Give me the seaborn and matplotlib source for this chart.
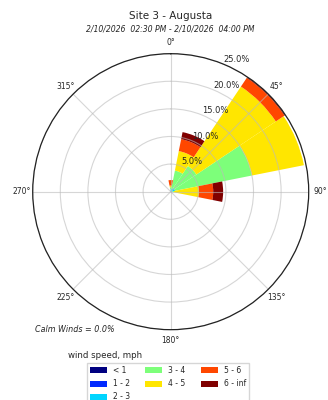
import matplotlib
matplotlib.use("Agg")
import matplotlib.pyplot as plt
import numpy as np
import seaborn as sns
from matplotlib.patches import Patch

sns.set_theme(style="white")
plt.rcParams['font.family'] = ['DejaVu Sans']

# wind direction sectors (deg) and percentage of time per speed bin
directions = [0, 22.5, 45, 67.5, 90]
speed_bins = ["< 1", "1 - 2", "2 - 3", "3 - 4", "4 - 5", "5 - 6", "6 - inf"]
pct_lt1 = [0.0, 0.0, 0.0, 0.0, 0.0]
pct_1_2 = [0.1, 0.1, 0.2, 0.2, 0.1]
pct_2_3 = [0.3, 0.4, 0.6, 0.6, 0.2]
pct_3_4 = [0.4, 3.4, 4.8, 14.2, 0.3]
pct_4_5 = [0.3, 3.6, 17.3, 9.6, 4.5]
pct_5_6 = [1.0, 2.2, 1.9, 0.0, 2.6]
pct_6_inf = [0.0, 1.3, 0.2, 0.0, 1.8]
series = [pct_lt1, pct_1_2, pct_2_3, pct_3_4, pct_4_5, pct_5_6, pct_6_inf]

radii = [5, 10, 15, 20, 25]
radii_labels = ["5.0%", "10.0%", "15.0%", "20.0%", "25.0%"]
angle_labels = ["0°", "45°", "90°", "135°", "180°", "225°", "270°", "315°"]

colors = sns.color_palette(list(plt.cm.jet(np.linspace(0, 1, len(speed_bins)))))

fig = plt.figure(figsize=(3.28, 4.0), dpi=100)
ax = fig.add_axes([0.0997, 0.1758, 0.8415, 0.69], projection="polar")
ax.set_theta_zero_location("N")
ax.set_theta_direction(-1)

# stacked sectors; grid + labels drawn over them like in windrose
theta = np.deg2rad(directions)
width = np.deg2rad(360 / 16)
bottom = np.zeros(len(directions))
for vals, col in zip(series, colors):
    vals = np.array(vals)
    ax.bar(theta, vals, width=width, bottom=bottom, color=col,
           linewidth=0, zorder=2)
    bottom += vals

ax.set_ylim(0, 25)
ax.set_rgrids(radii, labels=radii_labels, angle=22.5, fontsize=6)
ax.set_thetagrids(np.arange(0, 360, 45), labels=angle_labels, fontsize=5.5)
ax.tick_params(axis="x", pad=-5)
ax.grid(True, color="#bbbbbb", linewidth=0.8, alpha=0.6)
ax.set_axisbelow(False)
ax.spines["polar"].set_color("#222222")
ax.spines["polar"].set_linewidth(0.9)
ax.spines["polar"].set_zorder(4)

fig.text(0.52, 0.96, "Site 3 - Augusta", ha="center", va="center", fontsize=7.5)
fig.text(0.52, 0.928, "2/10/2026  02:30 PM - 2/10/2026  04:00 PM",
         ha="center", va="center", fontsize=5.6, style="italic")
fig.text(0.107, 0.175, "Calm Winds = 0.0%", ha="left", va="center",
         fontsize=5.8, style="italic")
fig.text(0.207, 0.112, "wind speed, mph", ha="left", va="center", fontsize=6.2)

handles = [Patch(facecolor=c, edgecolor="none") for c in colors]
fig.legend(handles, speed_bins, ncol=3, loc="upper left",
           bbox_to_anchor=(87 / 328, 1 - 363 / 400), fontsize=5.5,
           handlelength=2.2, handleheight=0.8, columnspacing=2.0,
           labelspacing=0.55, handletextpad=0.8, borderaxespad=0,
           frameon=True, fancybox=False, edgecolor="#cccccc")

fig.savefig("out.png", dpi=100)
